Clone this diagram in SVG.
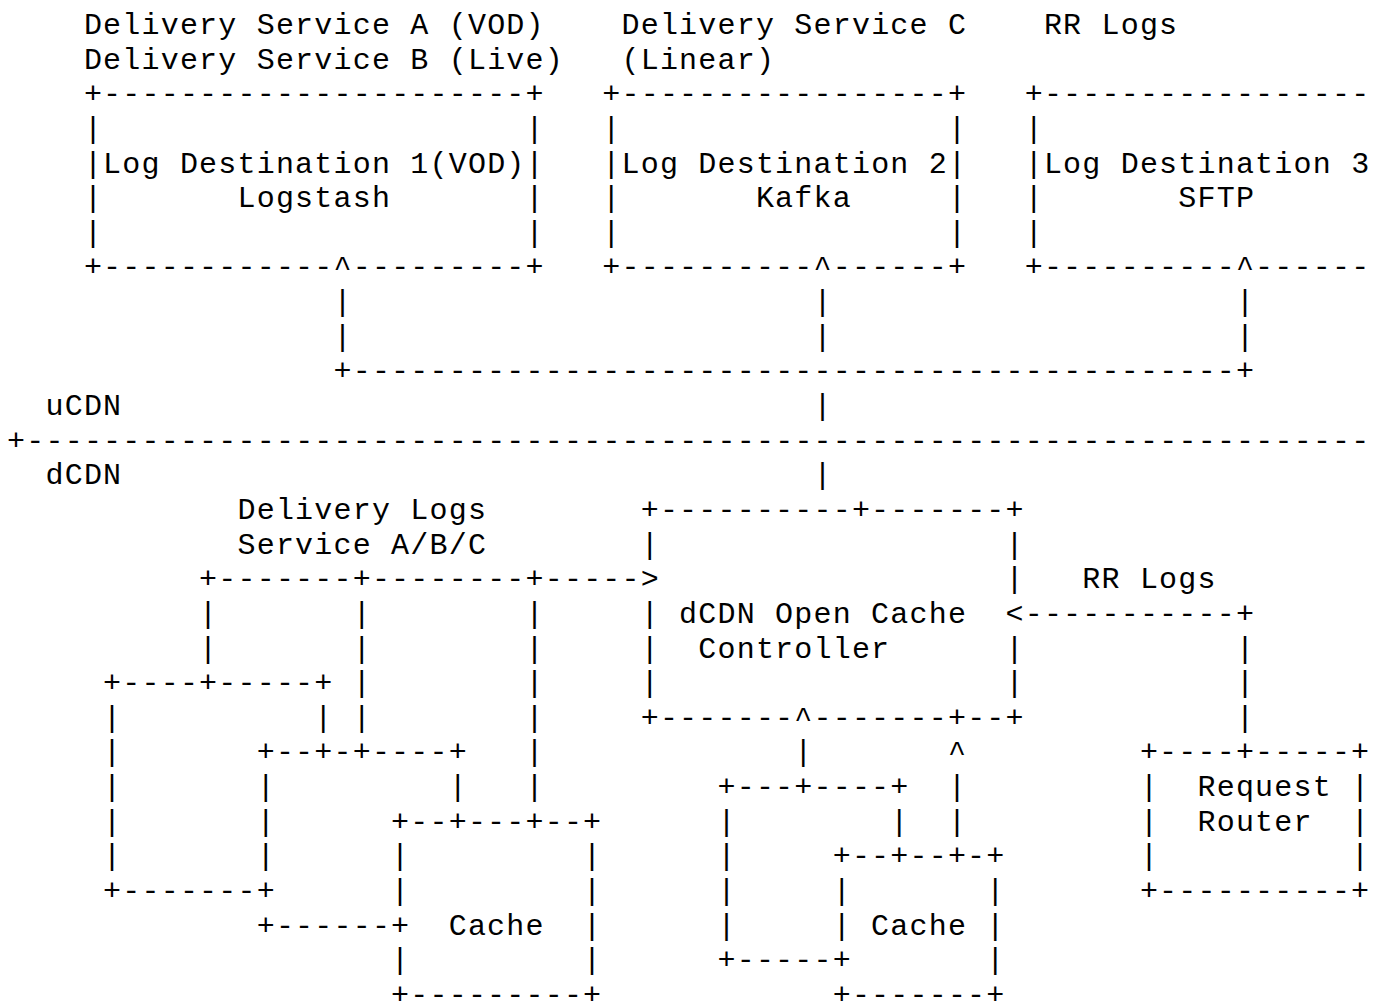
<svg xmlns="http://www.w3.org/2000/svg" width="1379" height="1003" viewBox="0 0 1379 1003" xml:space="preserve">
<style>
text { font-family: "Liberation Mono", "DejaVu Sans Mono", monospace; font-size: 30px; letter-spacing: 1.2px; fill: #000; white-space: pre; }
</style>
<rect x="0" y="0" width="1379" height="1003" fill="#fff"/>
<g id="log-destination-1">
<text x="83.9" y="34">Delivery Service A (VOD)</text>
<text x="83.9" y="68.64">Delivery Service B (Live)</text>
<text x="83.9" y="103.28">+----------------------+</text>
<text x="83.9" y="137.92">|                      |</text>
<text x="83.9" y="172.56">|Log Destination 1(VOD)|</text>
<text x="83.9" y="207.2">|       Logstash       |</text>
<text x="83.9" y="241.84">|                      |</text>
<text x="83.9" y="276.48">+------------^---------+</text>
</g>
<g id="log-destination-2">
<text x="621.5" y="34">Delivery Service C</text>
<text x="621.5" y="68.64">(Linear)</text>
<text x="602.3" y="103.28">+-----------------+</text>
<text x="602.3" y="137.92">|                 |</text>
<text x="602.3" y="172.56">|Log Destination 2|</text>
<text x="602.3" y="207.2">|       Kafka     |</text>
<text x="602.3" y="241.84">|                 |</text>
<text x="602.3" y="276.48">+----------^------+</text>
</g>
<g id="log-destination-3">
<text x="1043.9" y="34">RR Logs</text>
<text x="1024.7" y="103.28">+-----------------</text>
<text x="1024.7" y="137.92">|</text>
<text x="1024.7" y="172.56">|Log Destination 3</text>
<text x="1024.7" y="207.2">|       SFTP</text>
<text x="1024.7" y="241.84">|</text>
<text x="1024.7" y="276.48">+----------^------</text>
</g>
<g id="cdn-boundary">
<text x="45.5" y="415.04">uCDN</text>
<text x="7.1" y="449.68">+----------------------------------------------------------------------</text>
<text x="45.5" y="484.32">dCDN</text>
</g>
<g id="open-cache-controller">
<text x="640.7" y="518.96">+----------+-------+</text>
<text x="640.7" y="553.6">|                  |</text>
<text x="1005.5" y="588.24">|</text>
<text x="640.7" y="622.88">| dCDN Open Cache</text>
<text x="640.7" y="657.52">|  Controller      |</text>
<text x="640.7" y="692.16">|                  |</text>
<text x="640.7" y="726.8">+-------^-------+--+</text>
</g>
<g id="request-router">
<text x="1139.9" y="761.44">+----+-----+</text>
<text x="1139.9" y="796.08">|  Request |</text>
<text x="1139.9" y="830.72">|  Router  |</text>
<text x="1139.9" y="865.36">|          |</text>
<text x="1139.9" y="900">+----------+</text>
</g>
<g id="cache-left-1">
<text x="103.1" y="692.16">+----+-----+</text>
<text x="103.1" y="726.8">|          |</text>
<text x="103.1" y="761.44">|</text>
<text x="103.1" y="796.08">|</text>
<text x="103.1" y="830.72">|</text>
<text x="103.1" y="865.36">|</text>
<text x="103.1" y="900">+-------+</text>
</g>
<g id="cache-left-2">
<text x="256.7" y="761.44">+--+-+----+</text>
<text x="256.7" y="796.08">|         |</text>
<text x="256.7" y="830.72">|</text>
<text x="256.7" y="865.36">|</text>
<text x="256.7" y="934.64">+------+</text>
</g>
<g id="cache-left-3">
<text x="391.1" y="830.72">+--+---+--+</text>
<text x="391.1" y="865.36">|         |</text>
<text x="391.1" y="900">|         |</text>
<text x="410.3" y="934.64">  Cache  |</text>
<text x="391.1" y="969.28">|         |</text>
<text x="391.1" y="1003.92">+---------+</text>
</g>
<g id="cache-middle-1">
<text x="717.5" y="796.08">+---+----+</text>
<text x="717.5" y="830.72">|        |</text>
<text x="717.5" y="865.36">|</text>
<text x="717.5" y="900">|</text>
<text x="717.5" y="934.64">|</text>
<text x="717.5" y="969.28">+-----+</text>
</g>
<g id="cache-middle-2">
<text x="832.7" y="865.36">+--+--+-+</text>
<text x="832.7" y="900">|       |</text>
<text x="832.7" y="934.64">| Cache |</text>
<text x="986.3" y="969.28">|</text>
<text x="832.7" y="1003.92">+-------+</text>
</g>
<g id="connectors">
<text x="333.5" y="311.12">|                        |                     |</text>
<text x="333.5" y="345.76">|                        |                     |</text>
<text x="333.5" y="380.4">+----------------------------------------------+</text>
<text x="813.5" y="415.04">|</text>
<text x="813.5" y="484.32">|</text>
<text x="237.5" y="518.96">Delivery Logs</text>
<text x="237.5" y="553.6">Service A/B/C</text>
<text x="199.1" y="588.24">+-------+--------+-----&gt;</text>
<text x="199.1" y="622.88">|       |        |</text>
<text x="199.1" y="657.52">|       |        |</text>
<text x="352.7" y="692.16">|        |</text>
<text x="352.7" y="726.8">|        |</text>
<text x="525.5" y="761.44">|</text>
<text x="525.5" y="796.08">|</text>
<text x="1082.3" y="588.24">RR Logs</text>
<text x="1005.5" y="622.88">&lt;-----------+</text>
<text x="1235.9" y="657.52">|</text>
<text x="1235.9" y="692.16">|</text>
<text x="1235.9" y="726.8">|</text>
<text x="794.3" y="761.44">|</text>
<text x="947.9" y="761.44">^</text>
<text x="947.9" y="796.08">|</text>
<text x="947.9" y="830.72">|</text>
</g>
</svg>
